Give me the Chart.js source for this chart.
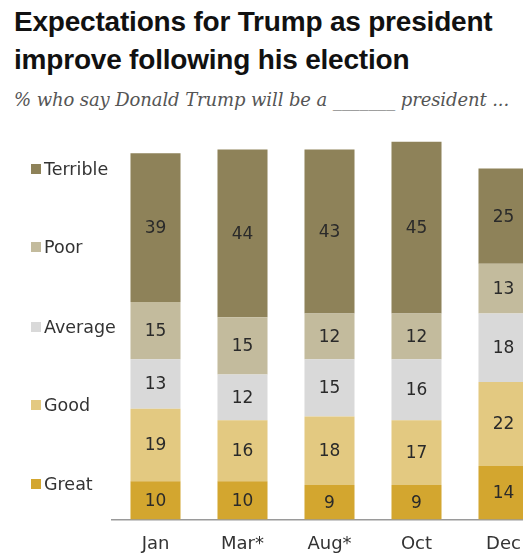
<!DOCTYPE html>
<html>
<head>
<meta charset="utf-8">
<script src="https://cdn.jsdelivr.net/npm/chart.js@4"></script>
<style>
  html, body { margin: 0; padding: 0; background: #fff; overflow: hidden; width: 523px; height: 556px; }
  #titulo {
    position: absolute; left: 14px; top: 3px; margin: 0;
    font: bold 28px "Liberation Sans", Arial, sans-serif; line-height: 38px;
    color: #111; letter-spacing: -0.2px; white-space: nowrap;
  }
  #subtitulo {
    position: absolute; left: 14px; top: 89px; margin: 0;
    font: italic 18px "DejaVu Serif", Georgia, serif; color: #555;
    letter-spacing: -0.1px; white-space: nowrap;
  }
  #lienzo { position: absolute; left: 0; top: 0; width: 560px; height: 561px; }
</style>
</head>
<body>
<h1 id="titulo">Expectations for Trump as president<br>improve following his election</h1>
<p id="subtitulo">% who say Donald Trump will be a _______ president ...</p>
<div id="lienzo"><canvas id="grafico"></canvas></div>
<script>
// Encuestas (el asterisco marca las de votantes registrados)
const meses = ['Jan', 'Mar*', 'Aug*', 'Oct', 'Dec'];

// Porcentajes por respuesta, de abajo hacia arriba en la pila
const great    = [10, 10, 9, 9, 14];
const good     = [19, 16, 18, 17, 22];
const average  = [13, 12, 15, 16, 18];
const poor     = [15, 15, 12, 12, 13];
const terrible = [39, 44, 43, 45, 25];

const series = [
  { label: 'Great',    data: great,    color: '#d3a62f' },
  { label: 'Good',     data: good,     color: '#e3c981' },
  { label: 'Average',  data: average,  color: '#d9d9d9' },
  { label: 'Poor',     data: poor,     color: '#c3bb9d' },
  { label: 'Terrible', data: terrible, color: '#8e8259' },
];

const FUENTE = '"DejaVu Sans", Verdana, sans-serif';

// Cifra centrada dentro de cada tramo de la barra
const etiquetas = {
  id: 'etiquetas',
  afterDatasetsDraw(chart) {
    const ctx = chart.ctx;
    ctx.save();
    ctx.font = '17px ' + FUENTE;
    ctx.fillStyle = '#2a2a2a';
    ctx.textAlign = 'center';
    ctx.textBaseline = 'middle';
    chart.data.datasets.forEach((ds, i) => {
      chart.getDatasetMeta(i).data.forEach((barra, j) => {
        const y = (barra.y + barra.base) / 2;
        ctx.fillText(String(ds.data[j]), barra.x, y + 1);
      });
    });
    ctx.restore();
  }
};

// Leyenda vertical a la izquierda, Terrible arriba y Great abajo
const leyenda = {
  id: 'leyenda',
  afterDraw(chart) {
    const ctx = chart.ctx;
    const ys = [484, 405, 327, 247, 169];
    ctx.save();
    ctx.font = '17.5px ' + FUENTE;
    ctx.textBaseline = 'middle';
    series.forEach((s, i) => {
      ctx.fillStyle = s.color;
      ctx.fillRect(31, ys[i] - 5, 10, 10);
      ctx.fillStyle = '#333';
      ctx.fillText(s.label, 44, ys[i] + 1);
    });
    ctx.restore();
  }
};

new Chart(document.getElementById('grafico'), {
  type: 'bar',
  data: {
    labels: meses,
    datasets: series.map((s) => ({
      label: s.label,
      data: s.data,
      backgroundColor: s.color,
      borderWidth: 0,
      barPercentage: 0.575,
      categoryPercentage: 1,
    })),
  },
  options: {
    responsive: true,
    maintainAspectRatio: false,
    animation: false,
    layout: { padding: { left: 112, right: 13, top: 138, bottom: 0 } },
    plugins: { legend: { display: false }, tooltip: { enabled: false } },
    scales: {
      x: {
        stacked: true,
        grid: { display: false },
        border: { display: true, color: '#9a9a9a', width: 1.5 },
        ticks: { color: '#333', font: { family: FUENTE, size: 18 }, padding: 6 },
      },
      y: {
        stacked: true,
        display: false,
        min: 0,
        max: 100,
      },
    },
  },
  plugins: [etiquetas, leyenda],
});
</script>
</body>
</html>
